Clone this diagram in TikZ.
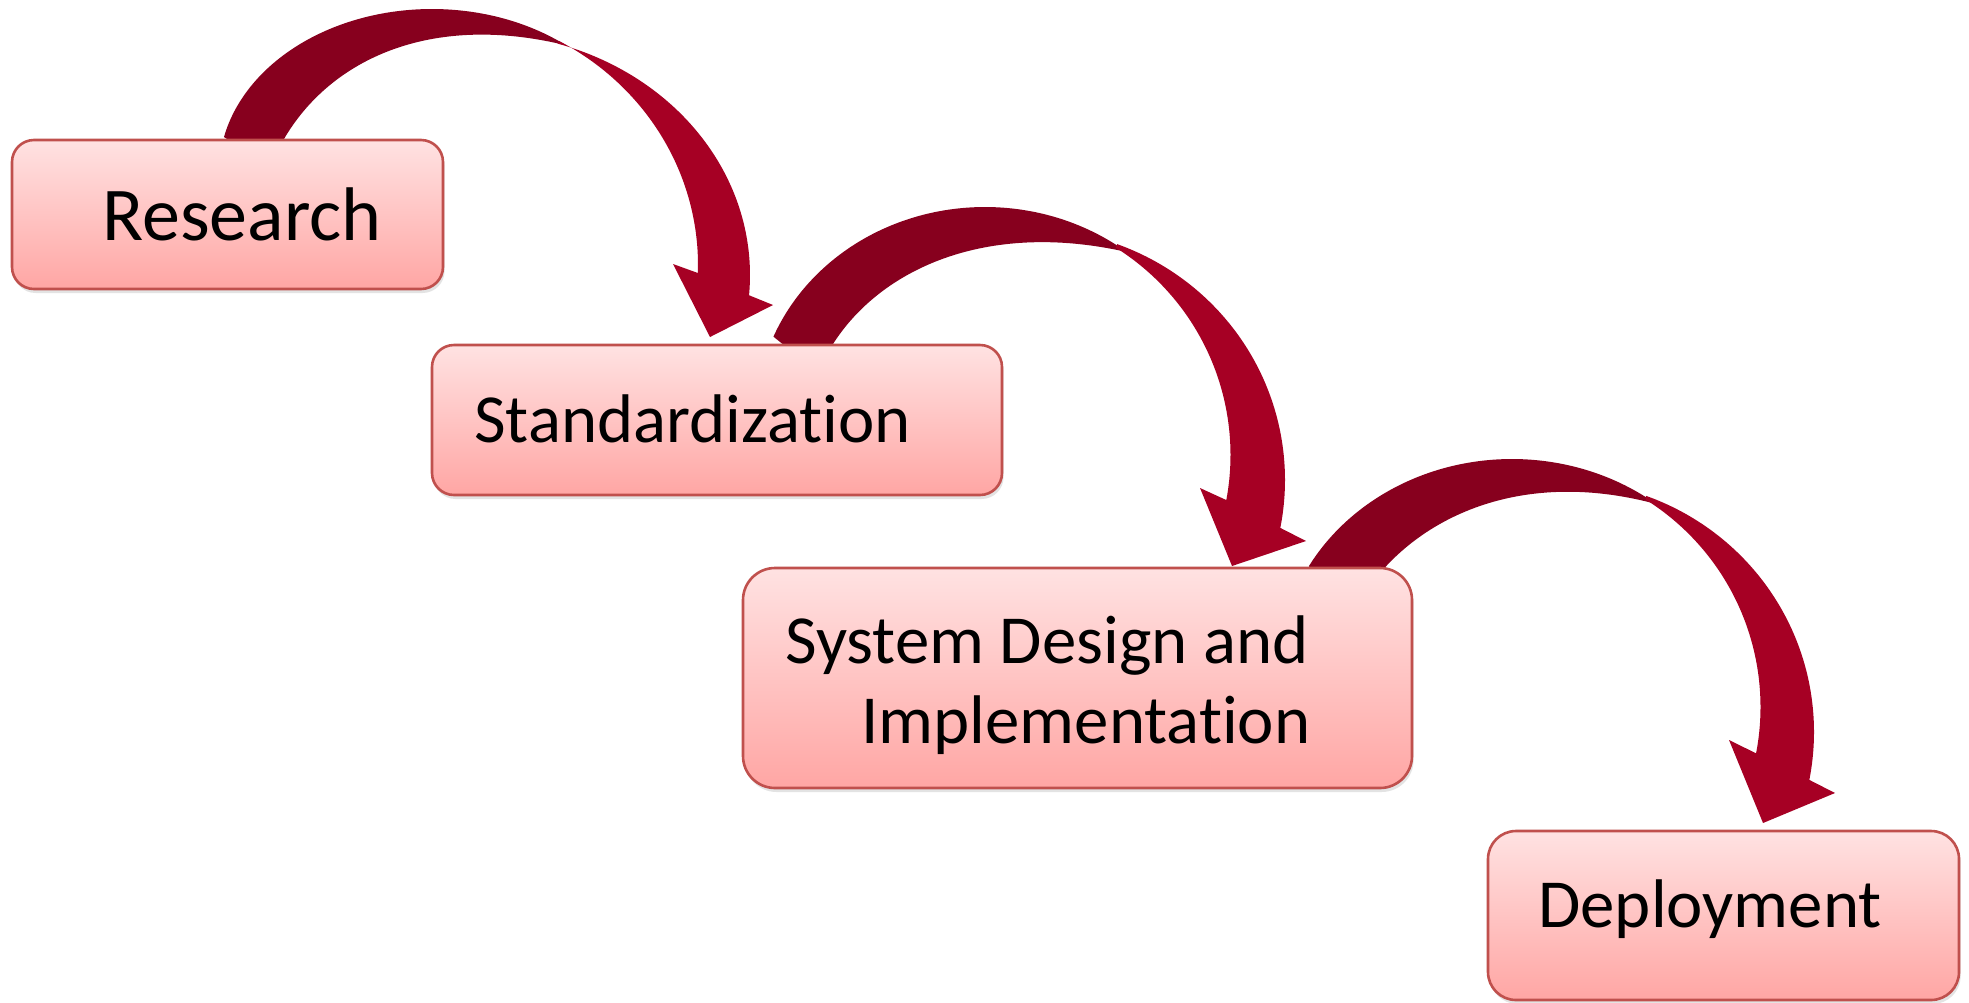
\documentclass[tikz,border=0pt]{standalone}
\usepackage{fontspec}
\setmainfont{Carlito}[Ligatures={NoCommon,NoContextual}]
\usetikzlibrary{shadows}
\definecolor{arrdark}{RGB}{135,0,30}
\definecolor{arrlight}{RGB}{166,0,36}
\definecolor{boxline}{RGB}{192,80,77}
\definecolor{boxtop}{RGB}{255,226,226}
\definecolor{boxbot}{RGB}{255,166,164}
\begin{document}
\begin{tikzpicture}[x=0.5pt,y=-0.5pt,
  stage/.style={draw=boxline, line width=1.3pt, top color=boxtop, bottom color=boxbot,
    inner sep=0pt, drop shadow={opacity=0.22, shadow xshift=0.8pt, shadow yshift=-2pt}},
  stagetext/.style={inner sep=0pt, anchor=base west, font=\fontsize{34.4}{40}\selectfont},
  arrback/.style={fill=arrdark},
  arrfront/.style={fill=arrlight},
  arc/.style={smooth, samples=45, variable=\t}]
\fill[white] (0,0) rectangle (1969,1002);
\useasboundingbox (0,0) rectangle (1969,1002);

% ---------- arrow 1: Research -> Standardization
\fill[arrback] plot[arc, domain=167.6:51] ({432+213*cos(\t)},{172-163*sin(\t)})
  .. controls (430,12) and (330,60) .. (284,139)
  -- (276,152) -- (244,150) -- cycle;
\fill[arrfront] plot[arc, domain=73:-4.8] ({478+272*cos(\t)},{275-242*sin(\t)})
  -- (773,305) -- (710,337) -- (673,264)
  -- plot[arc, domain=-1.8:61.5] ({432+266*cos(\t)},{265-255*sin(\t)}) -- cycle;

% ---------- arrow 2: Standardization -> System Design
\fill[arrback] plot[arc, domain=157.5:51.8] ({985+229*cos(\t)},{417-210*sin(\t)})
  .. controls (985,220) and (880,270) .. (833,344)
  -- (826,356) -- (795,354) -- cycle;
\fill[arrfront] plot[arc, domain=70:-11] ({1030+255*cos(\t)},{480-251*sin(\t)})
  -- (1306,541) -- (1232,566) -- (1200,488)
  -- plot[arc, domain=-10.6:57.8] ({985+245.5*cos(\t)},{455-245*sin(\t)}) -- cycle;

% ---------- arrow 3: System Design -> Deployment
\fill[arrback] plot[arc, domain=150.7:51.8] ({1512+233*cos(\t)},{669-210*sin(\t)})
  .. controls (1515,466) and (1410,522) .. (1363,596)
  -- (1330,586) -- cycle;
\fill[arrfront] plot[arc, domain=70.2:-11] ({1560+254*cos(\t)},{732-251*sin(\t)})
  -- (1835,793) -- (1763,823) -- (1729,740)
  -- plot[arc, domain=-10.9:57.8] ({1515+245.5*cos(\t)},{707-245*sin(\t)}) -- cycle;

% ---------- boxes
\node[stage, rounded corners=11pt, minimum width=215.5pt, minimum height=74.5pt] (research) at (227.5,214.5) {};
\node[stage, rounded corners=11pt, minimum width=285pt, minimum height=75pt] (standard) at (717,420) {};
\node[stage, rounded corners=16pt, minimum width=334.5pt, minimum height=110pt] (sysdesign) at (1077.5,678) {};
\node[stage, rounded corners=14pt, minimum width=235.5pt, minimum height=84.5pt] (deploy) at (1723.5,915.5) {};

% ---------- texts
\node[stagetext, font=\fontsize{38}{44}\selectfont] (tresearch) at (102,240) {Research};
\node[stagetext] (tstandard) at (474,442) {Standardization};
\node[stagetext] (tsys1) at (785,663) {System Design and};
\node[stagetext] (tsys2) at (861,743) {Implementation};
\node[stagetext] (tdeploy) at (1538,927) {Deployment};
\end{tikzpicture}
\end{document}
